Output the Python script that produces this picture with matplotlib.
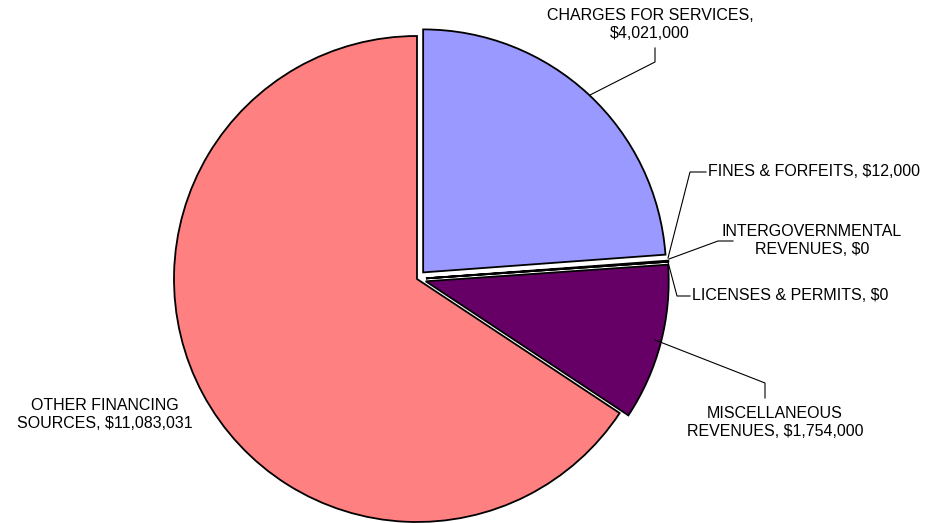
import matplotlib.pyplot as plt

plt.rcParams['font.family'] = ['Liberation Sans', 'DejaVu Sans']

# data
categories = ["CHARGES FOR SERVICES", "FINES & FORFEITS", "INTERGOVERNMENTAL REVENUES",
              "LICENSES & PERMITS", "MISCELLANEOUS REVENUES", "OTHER FINANCING SOURCES"]
values = [4021000, 12000, 0, 0, 1754000, 11083031]
colors = ['#9999FF', '#993366', '#FFFFCC', '#CCFFFF', '#660066', '#FF8080']
explode = [9, 9, 9, 9, 9, 0]   # pixels

fig = plt.figure(figsize=(9.28, 5.23), dpi=100)
ax = fig.add_axes([0, 0, 1, 1])

H = 523
cx, cy, r = 417, H - 279, 243

wedges, _ = ax.pie(values, colors=colors, explode=explode, startangle=90,
                   counterclock=False, radius=r, center=(cx, cy), frame=True,
                   wedgeprops=dict(edgecolor='black', linewidth=1.3))
ax.set_xlim(0, 928)
ax.set_ylim(0, 523)
ax.set_aspect('equal')
ax.axis('off')


def money(v):
    return "${:,}".format(v)


fs = 11.5
tk = dict(fontsize=fs, color='black', linespacing=1.25)
lk = dict(color='black', linewidth=0.8)

# labels with leader lines (pixel coords, y flipped)
ax.text(650, H - 25, "CHARGES FOR SERVICES,\n" + money(values[0]), ha='center', va='center', **tk)
ax.plot([590, 655, 655], [H - 95, H - 62, H - 48], **lk)

ax.text(708, H - 172, "FINES & FORFEITS, " + money(values[1]), ha='left', va='center', **tk)
ax.plot([668, 690, 706], [H - 258, H - 172, H - 172], **lk)

ax.text(812, H - 241, "INTERGOVERNMENTAL\nREVENUES, " + money(values[2]), ha='center', va='center', **tk)
ax.plot([669, 718, 733], [H - 259, H - 241, H - 241], **lk)

ax.text(692, H - 296, "LICENSES & PERMITS, " + money(values[3]), ha='left', va='center', **tk)
ax.plot([668, 677, 690], [H - 262, H - 296, H - 296], **lk)

ax.text(775, H - 423, "MISCELLANEOUS\nREVENUES, " + money(values[4]), ha='center', va='center', **tk)
ax.plot([655, 765, 765], [H - 340, H - 383, H - 398], **lk)

ax.text(105, H - 414, "OTHER FINANCING\nSOURCES, " + money(values[5]), ha='center', va='center', **tk)

fig.savefig('out.png', dpi=100)
